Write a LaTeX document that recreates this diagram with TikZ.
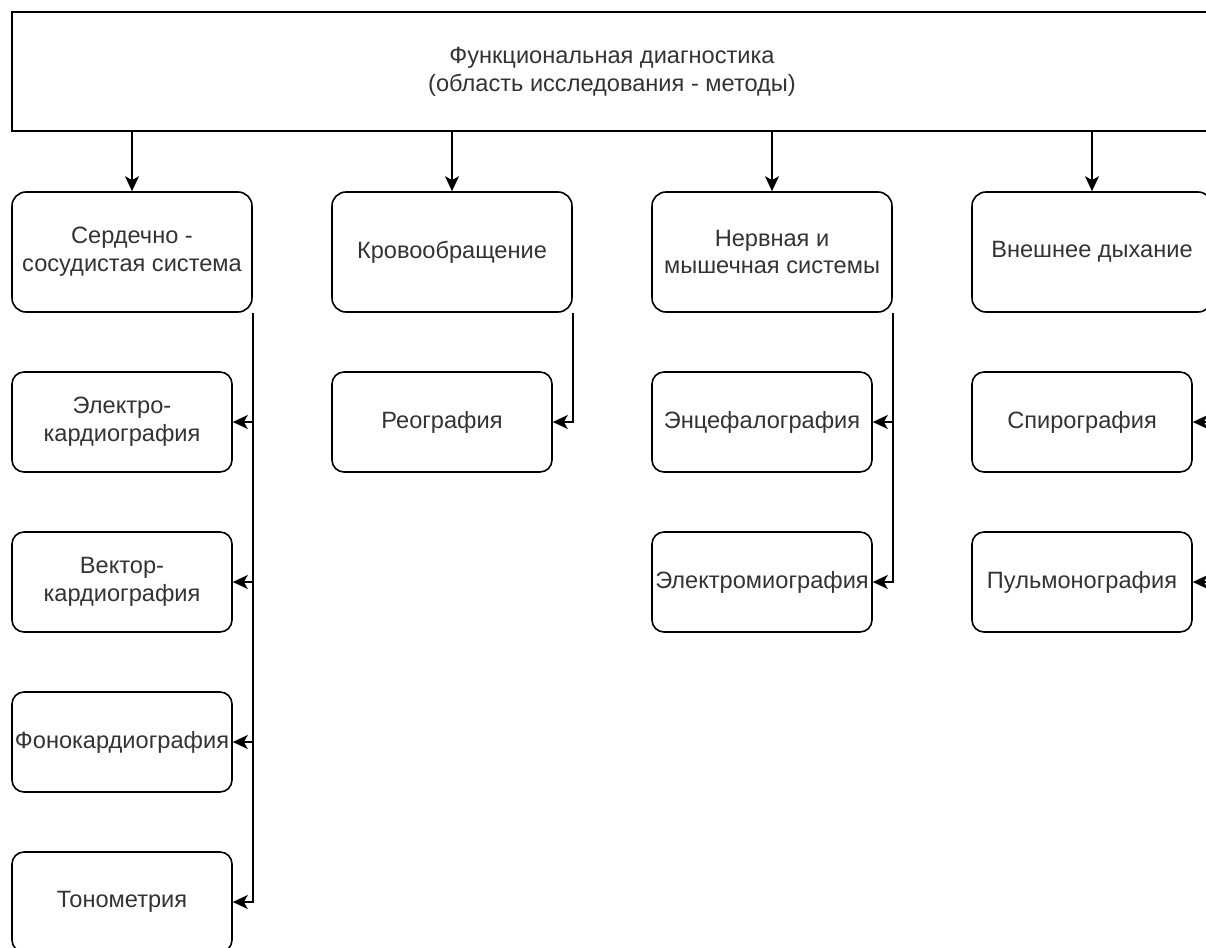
\documentclass[tikz,border=0pt]{standalone}
\usepackage{fontspec}
\setmainfont{Liberation Sans}
\usetikzlibrary{positioning,arrows.meta}

\begin{document}
\begin{tikzpicture}[x=0.5pt,y=-0.5pt,font=\fontsize{11.8}{13.8}\selectfont,
  >={Stealth[length=7.5pt,width=7pt,inset=2pt]},line width=0.8pt]
\tikzstyle{head}=[draw,rectangle,minimum width=600pt,minimum height=59.5pt,
  inner sep=0pt,align=center,text=black!80]
\tikzstyle{area}=[draw,rectangle,rounded corners=7pt,minimum width=120pt,
  minimum height=60pt,inner sep=0pt,align=center,text=black!80]
\tikzstyle{meth}=[draw,rectangle,rounded corners=6pt,minimum width=110pt,
  minimum height=50pt,inner sep=0pt,align=center,text=black!80]
\useasboundingbox (0,0) rectangle (1206,948);
\clip (0,0) rectangle (1206,948);
\node[head] (fd) at (612,71.5)
{Функциональная диагностика\\(область исследования - методы)};
\node[area] (ss) at (132,252) {Сердечно -\\сосудистая система};
\node[area] (kr) at (452,252) {Кровообращение};
\node[area] (nm) at (772,252) {Нервная и\\мышечная системы};
\node[area] (vd) at (1092,252) {Внешнее дыхание};
\node[meth] (ekg) at (122,422) {Электро-\\кардиография};
\node[meth] (vkg) at (122,582) {Вектор-\\кардиография};
\node[meth] (fkg) at (122,742) {\makebox[100pt]{Фонокардиография}};
\node[meth] (ton) at (122,902) {Тонометрия};
\node[meth] (reo) at (442,422) {Реография};
\node[meth] (eeg) at (762,422) {Энцефалография};
\node[meth] (emg) at (762,582) {\makebox[100pt]{Электромиография}};
\node[meth] (spi) at (1082,422) {Спирография};
\node[meth] (pul) at (1082,582) {Пульмонография};
\draw[->] (fd.south -| ss.north) -- (ss.north);
\draw[->] (fd.south -| kr.north) -- (kr.north);
\draw[->] (fd.south -| nm.north) -- (nm.north);
\draw[->] (fd.south -| vd.north) -- (vd.north);
\draw[->] (ss.south east) |- (ekg.east);
\draw[->] (ss.south east) |- (vkg.east);
\draw[->] (ss.south east) |- (fkg.east);
\draw[->] (ss.south east) |- (ton.east);
\draw[->] (kr.south east) |- (reo.east);
\draw[->] (nm.south east) |- (eeg.east);
\draw[->] (nm.south east) |- (emg.east);
\draw[->] (vd.south east) |- (spi.east);
\draw[->] (vd.south east) |- (pul.east);
\end{tikzpicture}
\end{document}
